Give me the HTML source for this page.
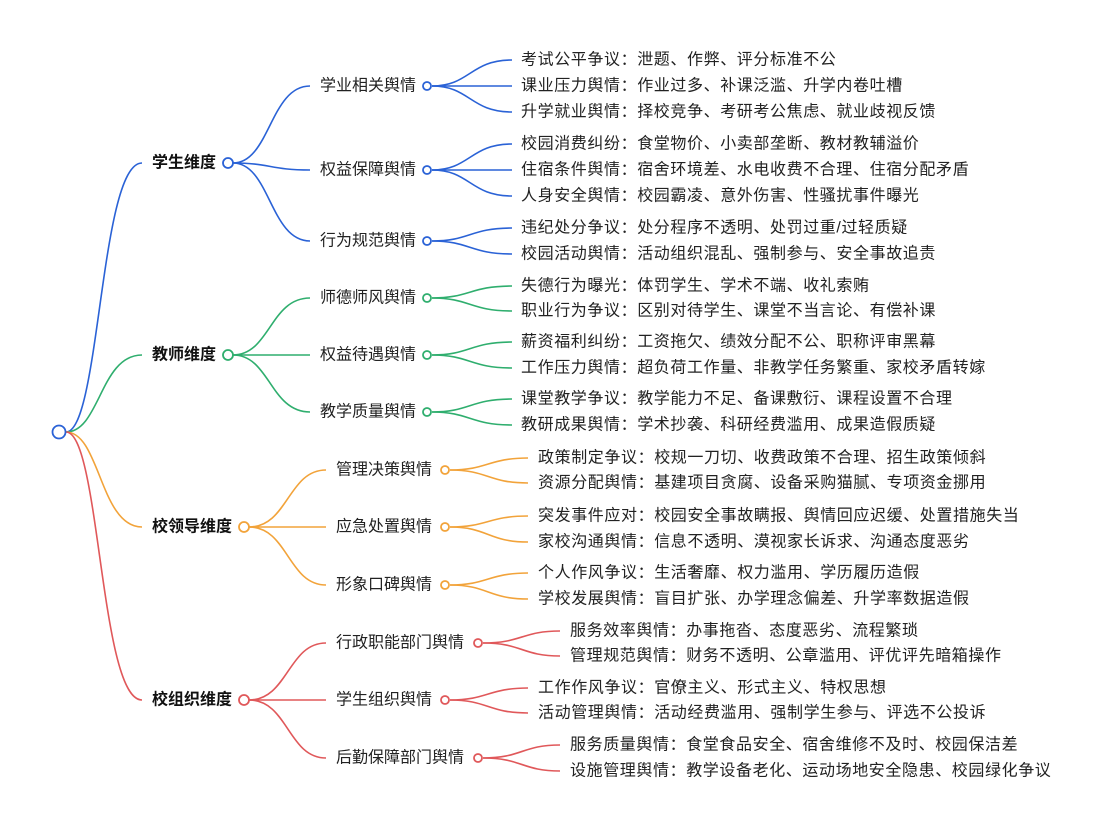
<!DOCTYPE html>
<html><head><meta charset="utf-8">
<style>
html,body{margin:0;padding:0;background:#fff;}
svg{display:block;}
text{font-family:"Liberation Sans","Noto Sans CJK SC",sans-serif;font-size:16px;fill:#222;dominant-baseline:central;}
.b{font-weight:bold;fill:#111;}
.l{letter-spacing:0.6px;}
path{fill:none;stroke-width:1.6;}
circle{fill:#fff;stroke-width:1.8;}
</style></head><body>
<svg width="1108" height="832" viewBox="0 0 1108 832" xmlns="http://www.w3.org/2000/svg">
<path d="M66 432 C100 432,100 163,142 163" stroke="#2a62d6"/>
<path d="M66 432 C100 432,100 355,142 355" stroke="#2fae6e"/>
<path d="M66 432 C100 432,100 527,142 527" stroke="#f2a33a"/>
<path d="M66 432 C100 432,100 700,142 700" stroke="#e0585a"/>
<circle cx="59" cy="432" r="6.5" stroke="#2a62d6"/>

<g stroke="#2a62d6">
<path d="M233 163 C270 163,270 86,310 86"/>
<path d="M233 163 C270 163,270 170,310 170"/>
<path d="M233 163 C270 163,270 241,310 241"/>
<path d="M432 86 C470 86,470 60,512 60"/><path d="M432 86 L512 86"/><path d="M432 86 C470 86,470 112,512 112"/>
<path d="M432 170 C470 170,470 144,512 144"/><path d="M432 170 L512 170"/><path d="M432 170 C470 170,470 196,512 196"/>
<path d="M432 241 C470 241,470 228,512 228"/><path d="M432 241 C470 241,470 254,512 254"/>
<circle cx="228" cy="163" r="5"/><circle cx="427" cy="86" r="4"/><circle cx="427" cy="170" r="4"/><circle cx="427" cy="241" r="4"/>
</g>
<text x="152" y="163" class="b">学生维度</text>
<text x="320" y="86">学业相关舆情</text>
<text x="320" y="170">权益保障舆情</text>
<text x="320" y="241">行为规范舆情</text>
<g class="l">
<text x="521" y="60">考试公平争议：泄题、作弊、评分标准不公</text>
<text x="521" y="86">课业压力舆情：作业过多、补课泛滥、升学内卷吐槽</text>
<text x="521" y="112">升学就业舆情：择校竞争、考研考公焦虑、就业歧视反馈</text>
<text x="521" y="144">校园消费纠纷：食堂物价、小卖部垄断、教材教辅溢价</text>
<text x="521" y="170">住宿条件舆情：宿舍环境差、水电收费不合理、住宿分配矛盾</text>
<text x="521" y="196">人身安全舆情：校园霸凌、意外伤害、性骚扰事件曝光</text>
<text x="521" y="228">违纪处分争议：处分程序不透明、处罚过重/过轻质疑</text>
<text x="521" y="254">校园活动舆情：活动组织混乱、强制参与、安全事故追责</text>
</g>

<g stroke="#2fae6e">
<path d="M233 355 C270 355,270 298,310 298"/>
<path d="M233 355 L310 355"/>
<path d="M233 355 C270 355,270 412,310 412"/>
<path d="M432 298 C470 298,470 286,512 286"/><path d="M432 298 C470 298,470 311,512 311"/>
<path d="M432 355 C470 355,470 342,512 342"/><path d="M432 355 C470 355,470 368,512 368"/>
<path d="M432 412 C470 412,470 399,512 399"/><path d="M432 412 C470 412,470 425,512 425"/>
<circle cx="228" cy="355" r="5"/><circle cx="427" cy="298" r="4"/><circle cx="427" cy="355" r="4"/><circle cx="427" cy="412" r="4"/>
</g>
<text x="152" y="355" class="b">教师维度</text>
<text x="320" y="298">师德师风舆情</text>
<text x="320" y="355">权益待遇舆情</text>
<text x="320" y="412">教学质量舆情</text>
<g class="l">
<text x="521" y="286">失德行为曝光：体罚学生、学术不端、收礼索贿</text>
<text x="521" y="311">职业行为争议：区别对待学生、课堂不当言论、有偿补课</text>
<text x="521" y="342">薪资福利纠纷：工资拖欠、绩效分配不公、职称评审黑幕</text>
<text x="521" y="368">工作压力舆情：超负荷工作量、非教学任务繁重、家校矛盾转嫁</text>
<text x="521" y="399">课堂教学争议：教学能力不足、备课敷衍、课程设置不合理</text>
<text x="521" y="425">教研成果舆情：学术抄袭、科研经费滥用、成果造假质疑</text>
</g>

<g stroke="#f2a33a">
<path d="M249 527 C288 527,288 470,326 470"/>
<path d="M249 527 L326 527"/>
<path d="M249 527 C288 527,288 585,326 585"/>
<path d="M450 470 C488 470,488 458,528 458"/><path d="M450 470 C488 470,488 483,528 483"/>
<path d="M450 527 C488 527,488 516,528 516"/><path d="M450 527 C488 527,488 542,528 542"/>
<path d="M450 585 C488 585,488 573,528 573"/><path d="M450 585 C488 585,488 599,528 599"/>
<circle cx="244" cy="527" r="5"/><circle cx="445" cy="470" r="4"/><circle cx="445" cy="527" r="4"/><circle cx="445" cy="585" r="4"/>
</g>
<text x="152" y="527" class="b">校领导维度</text>
<text x="336" y="470">管理决策舆情</text>
<text x="336" y="527">应急处置舆情</text>
<text x="336" y="585">形象口碑舆情</text>
<g class="l">
<text x="538" y="458">政策制定争议：校规一刀切、收费政策不合理、招生政策倾斜</text>
<text x="538" y="483">资源分配舆情：基建项目贪腐、设备采购猫腻、专项资金挪用</text>
<text x="538" y="516">突发事件应对：校园安全事故瞒报、舆情回应迟缓、处置措施失当</text>
<text x="538" y="542">家校沟通舆情：信息不透明、漠视家长诉求、沟通态度恶劣</text>
<text x="538" y="573">个人作风争议：生活奢靡、权力滥用、学历履历造假</text>
<text x="538" y="599">学校发展舆情：盲目扩张、办学理念偏差、升学率数据造假</text>
</g>

<g stroke="#e0585a">
<path d="M249 700 C288 700,288 643,326 643"/>
<path d="M249 700 L326 700"/>
<path d="M249 700 C288 700,288 758,326 758"/>
<path d="M483 643 C522 643,522 631,560 631"/><path d="M483 643 C522 643,522 656,560 656"/>
<path d="M450 700 C488 700,488 688,528 688"/><path d="M450 700 C488 700,488 713,528 713"/>
<path d="M483 758 C522 758,522 745,560 745"/><path d="M483 758 C522 758,522 771,560 771"/>
<circle cx="244" cy="700" r="5"/><circle cx="478" cy="643" r="4"/><circle cx="445" cy="700" r="4"/><circle cx="478" cy="758" r="4"/>
</g>
<text x="152" y="700" class="b">校组织维度</text>
<text x="336" y="643">行政职能部门舆情</text>
<text x="336" y="700">学生组织舆情</text>
<text x="336" y="758">后勤保障部门舆情</text>
<g class="l">
<text x="570" y="631">服务效率舆情：办事拖沓、态度恶劣、流程繁琐</text>
<text x="570" y="656">管理规范舆情：财务不透明、公章滥用、评优评先暗箱操作</text>
<text x="538" y="688">工作作风争议：官僚主义、形式主义、特权思想</text>
<text x="538" y="713">活动管理舆情：活动经费滥用、强制学生参与、评选不公投诉</text>
<text x="570" y="745">服务质量舆情：食堂食品安全、宿舍维修不及时、校园保洁差</text>
<text x="570" y="771">设施管理舆情：教学设备老化、运动场地安全隐患、校园绿化争议</text>
</g>
</svg>
</body></html>
